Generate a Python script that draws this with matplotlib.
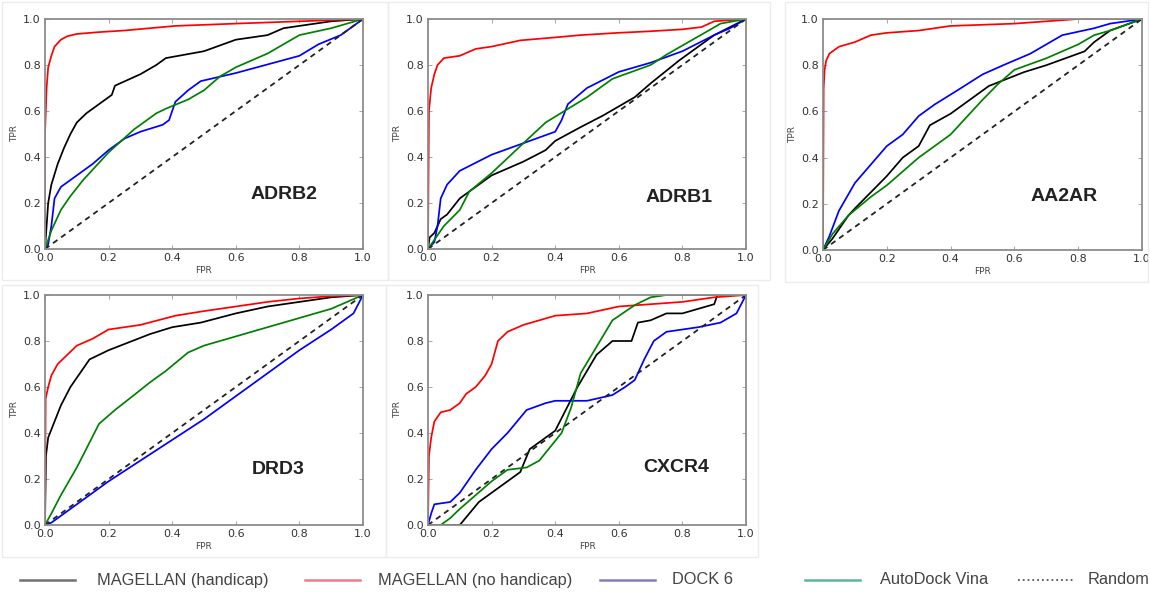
import matplotlib
matplotlib.use("Agg")
import matplotlib.pyplot as plt
from matplotlib.lines import Line2D
from matplotlib.patches import Rectangle

# ROC curves: (FPR, TPR) pairs
TARGETS = ["ADRB2", "ADRB1", "AA2AR", "DRD3", "CXCR4"]
METHODS = ["MAGELLAN (handicap)", "MAGELLAN (no handicap)", "DOCK 6", "AutoDock Vina", "Random"]

adrb2_handicap = [(0, 0), (0.01, 0.2), (0.02, 0.28), (0.04, 0.37), (0.06, 0.44), (0.08, 0.5),
                  (0.1, 0.55), (0.13, 0.59), (0.17, 0.63), (0.2, 0.66), (0.21, 0.67), (0.22, 0.71),
                  (0.3, 0.76), (0.35, 0.8), (0.38, 0.83), (0.5, 0.86), (0.6, 0.91), (0.7, 0.93),
                  (0.75, 0.96), (0.85, 0.98), (0.9, 0.99), (1, 1)]
adrb2_nohandicap = [(0, 0), (0.0, 0.5), (0.005, 0.7), (0.01, 0.79), (0.02, 0.84), (0.03, 0.88),
                    (0.05, 0.91), (0.07, 0.925), (0.1, 0.935), (0.17, 0.943), (0.25, 0.95),
                    (0.41, 0.97), (0.6, 0.98), (0.8, 0.99), (1, 1)]
adrb2_dock = [(0, 0), (0.01, 0.02), (0.02, 0.1), (0.03, 0.22), (0.05, 0.27), (0.1, 0.32),
              (0.15, 0.37), (0.2, 0.43), (0.25, 0.48), (0.3, 0.51), (0.37, 0.54), (0.39, 0.56),
              (0.41, 0.64), (0.45, 0.69), (0.49, 0.73), (0.6, 0.765), (0.72, 0.81),
              (0.8, 0.84), (0.86, 0.89), (0.93, 0.93), (1, 1)]
adrb2_vina = [(0, 0), (0.02, 0.08), (0.05, 0.17), (0.08, 0.23), (0.12, 0.3), (0.2, 0.42),
              (0.28, 0.52), (0.35, 0.59), (0.38, 0.61), (0.45, 0.65), (0.5, 0.69), (0.55, 0.75),
              (0.6, 0.79), (0.7, 0.85), (0.8, 0.93), (0.9, 0.96), (1, 1)]

adrb1_handicap = [(0, 0), (0.005, 0.05), (0.02, 0.07), (0.04, 0.13), (0.06, 0.15), (0.1, 0.22),
                  (0.15, 0.27), (0.2, 0.32), (0.3, 0.38), (0.37, 0.43), (0.4, 0.47), (0.48, 0.53),
                  (0.55, 0.58), (0.65, 0.66), (0.7, 0.72), (0.79, 0.82), (0.9, 0.93), (1, 1)]
adrb1_nohandicap = [(0, 0), (0.003, 0.6), (0.01, 0.7), (0.02, 0.76), (0.03, 0.8), (0.05, 0.83),
                    (0.1, 0.84), (0.15, 0.87), (0.2, 0.88), (0.29, 0.907), (0.4, 0.92),
                    (0.48, 0.93), (0.6, 0.94), (0.69, 0.946), (0.8, 0.955), (0.86, 0.965),
                    (0.9, 0.99), (1, 1)]
adrb1_dock = [(0, 0), (0.02, 0.03), (0.03, 0.1), (0.04, 0.22), (0.06, 0.28), (0.1, 0.34),
              (0.2, 0.41), (0.3, 0.46), (0.4, 0.51), (0.42, 0.56), (0.44, 0.63), (0.5, 0.7),
              (0.6, 0.77), (0.7, 0.81), (0.8, 0.86), (0.9, 0.93), (0.95, 0.96), (1, 1)]
adrb1_vina = [(0, 0), (0.02, 0.04), (0.05, 0.1), (0.1, 0.17), (0.13, 0.25), (0.2, 0.33),
              (0.3, 0.46), (0.37, 0.55), (0.5, 0.66), (0.58, 0.74), (0.7, 0.8), (0.75, 0.845),
              (0.87, 0.94), (0.92, 0.98), (1, 1)]

aa2ar_handicap = [(0, 0), (0.03, 0.05), (0.08, 0.15), (0.1, 0.18), (0.15, 0.25), (0.2, 0.32),
                  (0.25, 0.4), (0.3, 0.45), (0.335, 0.54), (0.4, 0.59), (0.46, 0.65), (0.52, 0.71),
                  (0.63, 0.77), (0.7, 0.8), (0.82, 0.86), (0.85, 0.9), (0.9, 0.95), (1, 1)]
aa2ar_nohandicap = [(0, 0), (0.002, 0.7), (0.005, 0.78), (0.01, 0.82), (0.02, 0.85), (0.05, 0.88),
                    (0.1, 0.9), (0.15, 0.93), (0.2, 0.94), (0.3, 0.95), (0.4, 0.97), (0.6, 0.98),
                    (0.7, 0.99), (0.8, 1.0), (1, 1)]
aa2ar_dock = [(0, 0), (0.02, 0.06), (0.05, 0.17), (0.1, 0.29), (0.15, 0.37), (0.2, 0.45),
              (0.25, 0.5), (0.3, 0.58), (0.35, 0.63), (0.42, 0.69), (0.5, 0.76), (0.565, 0.8),
              (0.65, 0.85), (0.75, 0.93), (0.85, 0.96), (0.9, 0.98), (1, 1)]
aa2ar_vina = [(0, 0), (0.03, 0.07), (0.08, 0.15), (0.15, 0.23), (0.2, 0.28), (0.3, 0.4),
              (0.4, 0.5), (0.44, 0.56), (0.5, 0.65), (0.55, 0.72), (0.6, 0.78), (0.7, 0.83),
              (0.8, 0.89), (0.85, 0.93), (0.9, 0.95), (1, 1)]

drd3_handicap = [(0, 0), (0.003, 0.3), (0.01, 0.38), (0.03, 0.45), (0.05, 0.52), (0.08, 0.6),
                 (0.1, 0.64), (0.12, 0.68), (0.14, 0.72), (0.17, 0.74), (0.2, 0.76), (0.33, 0.83),
                 (0.4, 0.86), (0.49, 0.88), (0.6, 0.92), (0.7, 0.95), (0.8, 0.97), (0.9, 0.99),
                 (1, 1)]
drd3_nohandicap = [(0, 0), (0.002, 0.55), (0.01, 0.6), (0.02, 0.65), (0.04, 0.7), (0.07, 0.74),
                   (0.1, 0.78), (0.15, 0.81), (0.2, 0.85), (0.3, 0.87), (0.41, 0.91), (0.5, 0.93),
                   (0.6, 0.95), (0.7, 0.97), (0.8, 0.985), (0.9, 0.995), (1, 1)]
drd3_dock = [(0, 0), (0.02, 0.01), (0.1, 0.09), (0.2, 0.19), (0.3, 0.28), (0.4, 0.37),
             (0.5, 0.46), (0.6, 0.56), (0.7, 0.66), (0.8, 0.76), (0.9, 0.85), (0.97, 0.92),
             (1, 1)]
drd3_vina = [(0, 0), (0.02, 0.05), (0.05, 0.13), (0.1, 0.25), (0.17, 0.44), (0.22, 0.5),
             (0.28, 0.565), (0.33, 0.62), (0.38, 0.67), (0.45, 0.75), (0.5, 0.78), (0.6, 0.82),
             (0.7, 0.86), (0.8, 0.9), (0.9, 0.94), (0.95, 0.97), (1, 1)]

cxcr4_handicap = [(0, 0), (0.1, 0.0), (0.16, 0.1), (0.22, 0.16), (0.29, 0.23), (0.32, 0.33),
                  (0.4, 0.41), (0.47, 0.6), (0.53, 0.74), (0.58, 0.8), (0.64, 0.8), (0.66, 0.88),
                  (0.7, 0.89), (0.75, 0.92), (0.8, 0.92), (0.85, 0.94), (0.9, 0.96), (0.91, 1.0),
                  (1, 1)]
cxcr4_nohandicap = [(0, 0), (0.003, 0.3), (0.01, 0.38), (0.02, 0.45), (0.04, 0.49), (0.07, 0.5),
                    (0.1, 0.53), (0.12, 0.57), (0.15, 0.6), (0.18, 0.65), (0.2, 0.7), (0.22, 0.8),
                    (0.25, 0.84), (0.3, 0.87), (0.35, 0.89), (0.4, 0.91), (0.5, 0.92),
                    (0.6, 0.95), (0.7, 0.96), (0.8, 0.97), (0.9, 0.99), (1, 1)]
cxcr4_dock = [(0, 0), (0.01, 0.05), (0.02, 0.09), (0.07, 0.1), (0.1, 0.14), (0.15, 0.24),
              (0.2, 0.33), (0.25, 0.4), (0.31, 0.5), (0.37, 0.53), (0.4, 0.54), (0.5, 0.54),
              (0.58, 0.565), (0.62, 0.6), (0.65, 0.63), (0.68, 0.72), (0.71, 0.8), (0.75, 0.84),
              (0.85, 0.86), (0.92, 0.88), (0.97, 0.92), (1, 1)]
cxcr4_vina = [(0, 0), (0.04, 0.0), (0.07, 0.03), (0.1, 0.07), (0.15, 0.13), (0.2, 0.19),
              (0.25, 0.24), (0.31, 0.25), (0.35, 0.28), (0.42, 0.4), (0.45, 0.51), (0.48, 0.66),
              (0.53, 0.775), (0.58, 0.89), (0.65, 0.956), (0.7, 0.99), (0.75, 1.0), (1, 1)]

random_line = [(0, 0), (1, 1)]

CURVES = {
    "ADRB2": [adrb2_handicap, adrb2_nohandicap, adrb2_dock, adrb2_vina],
    "ADRB1": [adrb1_handicap, adrb1_nohandicap, adrb1_dock, adrb1_vina],
    "AA2AR": [aa2ar_handicap, aa2ar_nohandicap, aa2ar_dock, aa2ar_vina],
    "DRD3": [drd3_handicap, drd3_nohandicap, drd3_dock, drd3_vina],
    "CXCR4": [cxcr4_handicap, cxcr4_nohandicap, cxcr4_dock, cxcr4_vina],
}

COLORS = ["black", "red", "blue", "green"]
LEGEND_COLORS = ["#707070", "#e8808c", "#8080b8", "#5cb894"]

W, H = 1150, 594
# axes boxes in pixels: left, top, right, bottom
AX_PX = {
    "ADRB2": (45, 19, 363, 249),
    "ADRB1": (428, 19, 746, 249),
    "AA2AR": (823, 19, 1142, 250),
    "DRD3": (45, 295, 363, 525),
    "CXCR4": (428, 295, 746, 525),
}
LABEL_POS = {
    "ADRB2": (0.75, 0.235),
    "ADRB1": (0.79, 0.226),
    "AA2AR": (0.755, 0.23),
    "DRD3": (0.733, 0.24),
    "CXCR4": (0.78, 0.25),
}
# faint panel frames in pixels: left, top, right, bottom
FRAMES = [(2, 2, 388, 280), (388, 2, 770, 280), (785, 2, 1148, 282),
          (2, 285, 386, 557), (386, 285, 758, 557)]

fig = plt.figure(figsize=(W / 100, H / 100), dpi=100)

for l, t, r, b in FRAMES:
    fig.add_artist(Rectangle((l / W, 1 - b / H), (r - l) / W, (b - t) / H,
                             transform=fig.transFigure, fill=False,
                             edgecolor="#ececec", lw=1))

for name in TARGETS:
    l, t, r, b = AX_PX[name]
    ax = fig.add_axes([l / W, 1 - b / H, (r - l) / W, (b - t) / H])
    for pts, c in zip(CURVES[name], COLORS):
        ax.plot([p[0] for p in pts], [p[1] for p in pts], color=c, lw=1.25)
    ax.plot([p[0] for p in random_line], [p[1] for p in random_line], "--", color="#222222",
            lw=1.3, dashes=(3, 2.5))
    ax.set_xlim(0, 1)
    ax.set_ylim(0, 1)
    ax.set_xticks([0, 0.2, 0.4, 0.6, 0.8, 1.0])
    ax.set_yticks([0, 0.2, 0.4, 0.6, 0.8, 1.0])
    ax.set_xticklabels(["0.0", "0.2", "0.4", "0.6", "0.8", "1.0"])
    ax.set_yticklabels(["0.0", "0.2", "0.4", "0.6", "0.8", "1.0"])
    ax.tick_params(direction="in", top=True, right=True, length=3, width=0.6,
                   color="#999999", labelsize=8, labelcolor="#333333", pad=3)
    for s in ax.spines.values():
        s.set_color("#8c8c8c")
        s.set_linewidth(1.3)
    ax.set_xlabel("FPR", fontsize=6.5, color="#444444", labelpad=2)
    ax.set_ylabel("TPR", fontsize=6.5, color="#444444", labelpad=3)
    lx, ly = LABEL_POS[name]
    ax.text(lx, ly, name, transform=ax.transAxes, ha="center", va="center",
            fontsize=14, fontweight="bold", color="#222222", family="Liberation Sans")

# legend row placed by hand
handle_x = [20, 305, 600, 805, 1018]
text_x = [97, 378, 672, 880, 1088]
leg_y = 1 - 580 / H
for i, label in enumerate(METHODS):
    x0 = handle_x[i] / W
    x1 = (handle_x[i] + 55) / W
    if i < 4:
        fig.add_artist(Line2D([x0, x1], [leg_y, leg_y], transform=fig.transFigure,
                              color=LEGEND_COLORS[i], lw=1.8))
    else:
        fig.add_artist(Line2D([x0, x1], [leg_y, leg_y], transform=fig.transFigure,
                              color="#555555", lw=1.3, ls=":"))
    fig.text(text_x[i] / W, leg_y, label, ha="left", va="center", fontsize=11.8,
             color="#444444", family="Liberation Sans")

fig.savefig("out.png", dpi=100)
